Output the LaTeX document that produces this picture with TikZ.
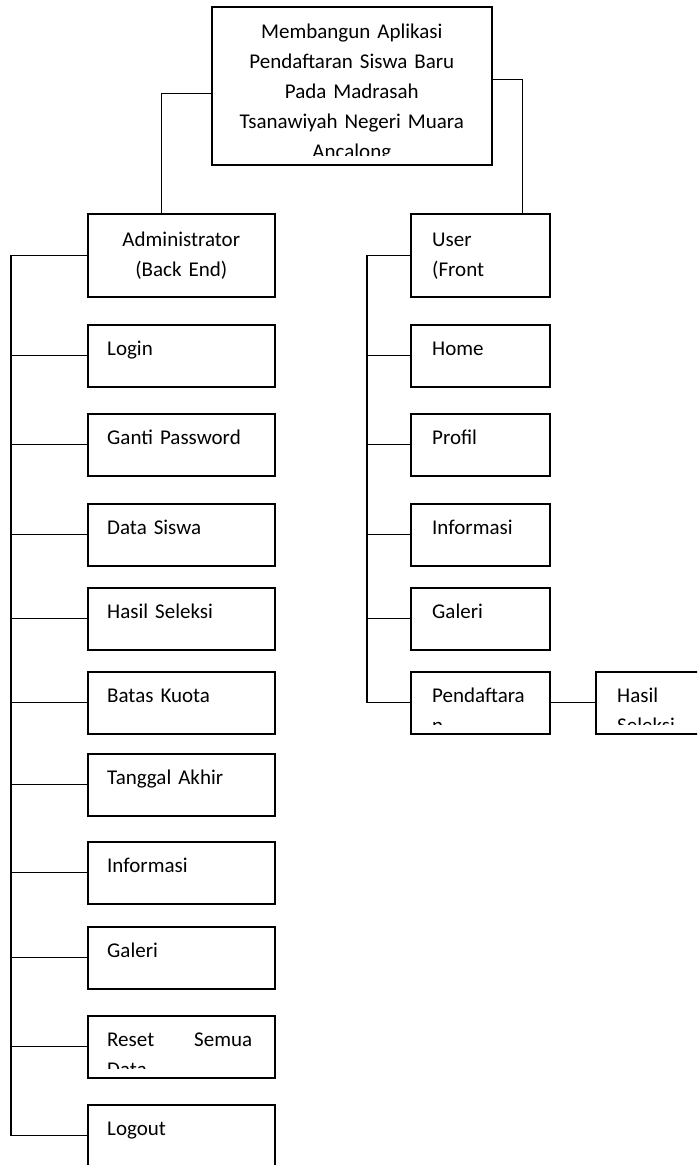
\documentclass[tikz,border=0pt]{standalone}
\usepackage{fontspec}
\setmainfont{Carlito}
\usepackage{tikz}

\tikzset{
  kotak/.style={draw, line width=1.6pt, anchor=north west, inner sep=0pt, minimum width=187pt, minimum height=62pt},
  teks/.style={anchor=base west, inner sep=0pt, text width=145pt, align=left, font=\fontsize{21}{30}\selectfont},
  garis/.style={line width=1.2pt}
}

\begin{document}
\begin{tikzpicture}[line cap=rect,line join=miter,x=1pt,y=-1pt]
\useasboundingbox (0,0) rectangle (697,1165);
\clip (0,0) rectangle (697,1165);

% judul
\node[kotak, minimum width=280pt, minimum height=158pt] (judul) at (211,6) {};
\begin{scope}
\clip (judul.north west) rectangle ([yshift=10pt]judul.south east);
\node[teks, anchor=base, text width=270pt, align=center] at ([yshift=-32pt]judul.north) {Membangun Aplikasi\\Pendaftaran Siswa Baru\\Pada Madrasah\\Tsanawiyah Negeri Muara\\Ancalong};
\end{scope}

% admin dan user
\node[kotak, minimum height=83pt] (admin) at (87,213) {};
\node[teks, anchor=base, text width=187pt, align=center] at ([yshift=-33pt]admin.north) {Administrator\\(Back End)};
\node[kotak, minimum width=139pt, minimum height=83pt] (user) at (410,213) {};
\node[teks] at ([xshift=22pt,yshift=-33pt]user.north west) {User\\(Front};

\draw[garis] ([yshift=-8pt]judul.west) -| ([xshift=-20pt]admin.north);
\draw[garis] ([yshift=6pt]judul.east) -| ([xshift=42.5pt]user.north);

% menu back end
\coordinate (kiri) at (11,254);
\foreach \nama/\isi/\atas in {login/Login/324, ganti/Ganti Password/413, datasiswa/Data Siswa/503, hasilseleksi/Hasil Seleksi/587, kuota/Batas Kuota/671, tanggal/Tanggal Akhir/753, info/Informasi/841, galeri/Galeri/926, reset/{Reset\hfill Semua\\Data}/1015, logout/Logout/1104}{
  \node[kotak] (\nama) at (87,\atas) {};
  \begin{scope}
  \clip (\nama.north west) rectangle ([yshift=10pt]\nama.south east);
  \node[teks] at ([xshift=20pt,yshift=-31pt]\nama.north west) {\isi};
  \end{scope}
  \draw[garis] (kiri |- \nama.west) -- (\nama.west);
}
\draw[garis] (admin.west) -| (kiri |- logout.west);

% menu front end
\coordinate (kanan) at (367,254);
\foreach \nama/\isi/\atas in {home/Home/324, profil/Profil/413, informasi/Informasi/503, galerifront/Galeri/587, daftar/{Pendaftara\\n}/671}{
  \node[kotak, minimum width=139pt] (\nama) at (410,\atas) {};
  \begin{scope}
  \clip (\nama.north west) rectangle ([yshift=10pt]\nama.south east);
  \node[teks] at ([xshift=22pt,yshift=-31pt]\nama.north west) {\isi};
  \end{scope}
  \draw[garis] (kanan |- \nama.west) -- (\nama.west);
}
\draw[garis] (user.west) -| (kanan |- daftar.west);

% hasil seleksi
\node[kotak, minimum width=139pt] (hasil) at (595,671) {};
\begin{scope}
\clip (hasil.north west) rectangle ([yshift=10pt]hasil.south east);
\node[teks] at ([xshift=22pt,yshift=-31pt]hasil.north west) {Hasil\\Seleksi};
\end{scope}
\draw[garis] (daftar.east) -- (hasil.west);
\end{tikzpicture}
\end{document}
